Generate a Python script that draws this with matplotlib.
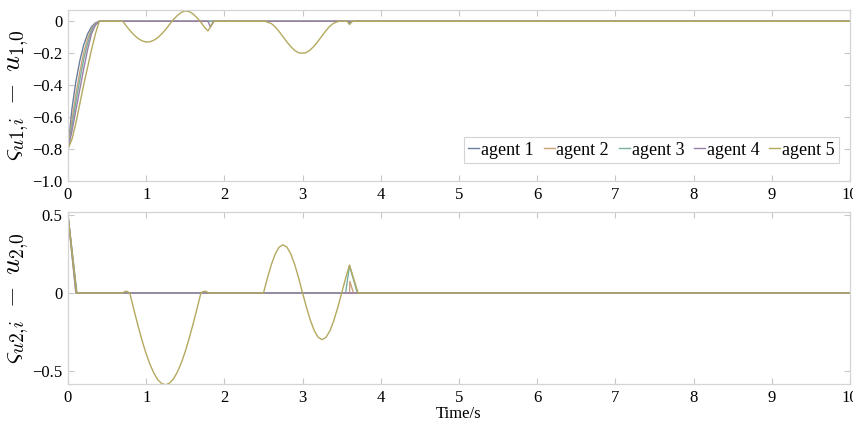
import matplotlib
matplotlib.use("Agg")
import matplotlib.pyplot as plt
from matplotlib.ticker import FixedLocator, FixedFormatter

plt.rcParams["font.family"] = ["Liberation Serif", "DejaVu Serif"]
plt.rcParams["mathtext.fontset"] = "cm"

agents = ["agent 1", "agent 2", "agent 3", "agent 4", "agent 5"]
colors = ["#6b7f9e", "#c9a27a", "#78b0a0", "#9a7fa6", "#b3a95e"]

# ---- upper panel: varsigma_{u1,i} - u_{1,0} ----
rise_t = [0.0, 0.05, 0.10, 0.15, 0.20, 0.25, 0.30, 0.35, 0.40]
u1_agent1_t = rise_t + [3.58, 3.61, 3.64, 10.0]
u1_agent1_v = [-0.80, -0.55, -0.38, -0.25, -0.15, -0.08, -0.035, -0.01, 0.0,
               0.0, -0.012, 0.0, 0.0]
u1_agent2_t = rise_t + [10.0]
u1_agent2_v = [-0.80, -0.62, -0.46, -0.32, -0.20, -0.11, -0.05, -0.015, 0.0, 0.0]
u1_agent3_t = rise_t + [10.0]
u1_agent3_v = [-0.80, -0.66, -0.51, -0.37, -0.24, -0.14, -0.06, -0.02, 0.0, 0.0]
u1_agent4_t = rise_t + [1.79, 1.82, 1.86, 10.0]
u1_agent4_v = [-0.80, -0.69, -0.56, -0.43, -0.30, -0.18, -0.08, -0.025, 0.0,
               0.0, -0.035, 0.0, 0.0]
u1_agent5_t = rise_t + [
    0.70, 0.75, 0.80, 0.85, 0.90, 0.95, 1.00, 1.05, 1.10, 1.15, 1.20, 1.25, 1.30,
    1.33, 1.35, 1.40, 1.45, 1.50, 1.55, 1.60, 1.65, 1.69, 1.75, 1.79, 1.83, 1.87,
    2.52, 2.60, 2.65, 2.70, 2.75, 2.80, 2.85, 2.90, 2.95, 2.99, 3.04, 3.09, 3.14,
    3.19, 3.24, 3.29, 3.34, 3.39, 3.46, 3.57, 3.60, 3.63, 10.0]
u1_agent5_v = [-0.80, -0.74, -0.64, -0.52, -0.40, -0.29, -0.18, -0.08, 0.0,
    0.0, -0.032, -0.062, -0.088, -0.109, -0.123, -0.130, -0.128, -0.118, -0.102,
    -0.078, -0.051, -0.019,
    0.0, 0.011, 0.037, 0.056, 0.065, 0.061, 0.046, 0.022, 0.0, -0.04, -0.06,
    -0.03, 0.0,
    0.0, -0.014, -0.035, -0.064, -0.097, -0.130, -0.159, -0.183, -0.197, -0.200,
    -0.197, -0.183, -0.159, -0.130, -0.097, -0.064, -0.035, -0.014, 0.0,
    0.0, -0.02, 0.0, 0.0]

# ---- lower panel: varsigma_{u2,i} - u_{2,0} ----
u2_agent1_t = [0.0, 0.100, 10.0]
u2_agent1_v = [0.5, 0.0, 0.0]
u2_agent2_t = [0.0, 0.105, 3.60, 3.605, 3.65, 10.0]
u2_agent2_v = [0.5, 0.0, 0.0, 0.075, 0.0, 0.0]
u2_agent3_t = [0.0, 0.115, 3.55, 3.60, 3.70, 10.0]
u2_agent3_v = [0.5, 0.0, 0.0, 0.175, 0.0, 0.0]
u2_agent4_t = [0.0, 0.110, 10.0]
u2_agent4_v = [0.5, 0.0, 0.0]
u2_agent5_t = [0.0, 0.11,
    0.70, 0.72, 0.75, 0.79, 0.85, 0.90, 0.95, 1.00, 1.05, 1.10, 1.15, 1.20,
    1.25, 1.30, 1.35, 1.40, 1.45, 1.50, 1.55, 1.60, 1.65, 1.70, 1.72, 1.76, 1.80,
    2.50, 2.55, 2.60, 2.65, 2.70, 2.75, 2.80, 2.85, 2.90, 2.95, 3.00, 3.05, 3.10,
    3.15, 3.20, 3.25, 3.30, 3.35, 3.40, 3.45, 3.50, 3.55, 3.60, 3.71, 10.0]
u2_agent5_v = [0.5, 0.0,
    0.0, 0.008, 0.012, 0.0, -0.121, -0.219, -0.310, -0.391, -0.461, -0.517,
    -0.559, -0.583, -0.590, -0.579, -0.552, -0.507, -0.448, -0.376, -0.291,
    -0.199, -0.101, 0.0, 0.008, 0.012, 0.0,
    0.0, 0.096, 0.182, 0.251, 0.295, 0.310, 0.295, 0.251, 0.182, 0.096, 0.0,
    -0.093, -0.176, -0.243, -0.285, -0.300, -0.285, -0.243, -0.176, -0.093,
    0.0, 0.095, 0.180, 0.0, 0.0]

u1_series = [(u1_agent1_t, u1_agent1_v), (u1_agent2_t, u1_agent2_v),
             (u1_agent3_t, u1_agent3_v), (u1_agent4_t, u1_agent4_v),
             (u1_agent5_t, u1_agent5_v)]
u2_series = [(u2_agent1_t, u2_agent1_v), (u2_agent2_t, u2_agent2_v),
             (u2_agent3_t, u2_agent3_v), (u2_agent4_t, u2_agent4_v),
             (u2_agent5_t, u2_agent5_v)]

x_ticks = list(range(0, 11))
u1_ticks = [-1.0, -0.8, -0.6, -0.4, -0.2, 0.0]
u1_tick_labels = ["\u22121.0", "\u22120.8", "\u22120.6", "\u22120.4", "\u22120.2", "0"]
u2_ticks = [-0.5, 0.0, 0.5]
u2_tick_labels = ["\u22120.5", "0", "0.5"]

fig = plt.figure(figsize=(8.54, 4.21), dpi=100)
ax1 = fig.add_axes([0.0796, 0.570, 0.9157, 0.406])
ax2 = fig.add_axes([0.0796, 0.088, 0.9157, 0.408])

frame_col = "#d4d4d4"
for ax in (ax1, ax2):
    for s in ax.spines.values():
        s.set_color(frame_col)
        s.set_linewidth(0.9)
    ax.tick_params(direction="in", length=4, width=0.8, color="#c8c8c8",
                   top=True, right=True, labelsize=12, pad=4)
    ax.set_xlim(0, 10)
    ax.xaxis.set_major_locator(FixedLocator(x_ticks))

for (t, v), c, name in zip(u1_series, colors, agents):
    ax1.plot(t, v, color=c, lw=1.0, label=name)
for (t, v), c in zip(u2_series, colors):
    ax2.plot(t, v, color=c, lw=1.0)

ax1.set_ylim(-1.0, 0.07)
ax1.yaxis.set_major_locator(FixedLocator(u1_ticks))
ax1.yaxis.set_major_formatter(FixedFormatter(u1_tick_labels))
ax2.set_ylim(-0.585, 0.52)
ax2.yaxis.set_major_locator(FixedLocator(u2_ticks))
ax2.yaxis.set_major_formatter(FixedFormatter(u2_tick_labels))

ax1.set_ylabel(r"$\varsigma_{u1{,}i}\;-\;u_{1{,}0}$", fontsize=20)
ax2.set_ylabel(r"$\varsigma_{u2{,}i}\;-\;u_{2{,}0}$", fontsize=20)
ax1.yaxis.set_label_coords(-0.047, 0.5)
ax2.yaxis.set_label_coords(-0.047, 0.5)
ax2.set_xlabel("Time/s", fontsize=12, labelpad=0)

leg = ax1.legend(loc="lower right", bbox_to_anchor=(0.986, 0.105), ncol=5,
                 fontsize=13, handlelength=0.6, handletextpad=0.1,
                 columnspacing=0.55, borderpad=0.25, borderaxespad=0,
                 fancybox=False, framealpha=1.0)
leg.get_frame().set_edgecolor("#d4d4d4")
leg.get_frame().set_linewidth(0.8)

fig.savefig("out.png", dpi=100)
